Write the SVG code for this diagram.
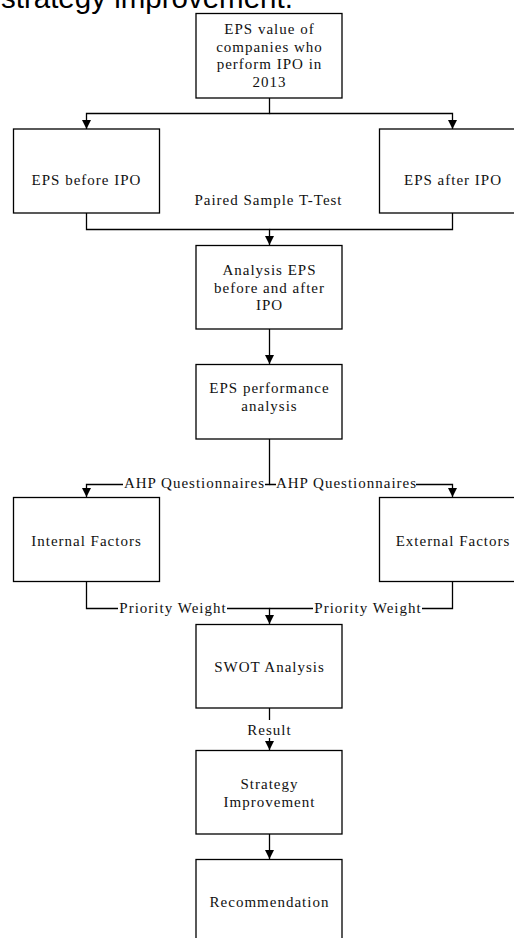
<svg xmlns="http://www.w3.org/2000/svg" width="514" height="938" viewBox="0 0 514 938">
<style>
.box{fill:#fff;stroke:#000;stroke-width:1.3}
.t{font-family:"Liberation Serif","Times New Roman",serif;font-size:15px;letter-spacing:1px;fill:#111;text-anchor:middle}
.ln{fill:none;stroke:#000;stroke-width:1.3}
.bg{fill:#fff}
.title{font-family:"Liberation Sans",Arial,sans-serif;font-size:29.5px;fill:#000}
</style>
<defs>
<marker id="ah" markerUnits="userSpaceOnUse" markerWidth="9" markerHeight="9" refX="9" refY="4.5" orient="auto">
<path d="M0,0 L9,4.5 L0,9 z" fill="#000"/>
</marker>
</defs>
<rect width="514" height="938" fill="#fff"/>
<text class="title" x="1" y="8">strategy improvement.</text>

<g id="connectors">
<path class="ln" d="M269.5,98 V113.5 H86.5 V129" marker-end="url(#ah)"/>
<path class="ln" d="M269.5,113.5 H452.5 V129" marker-end="url(#ah)"/>
<path class="ln" d="M86.5,213 V229.5 H269.5 V245" marker-end="url(#ah)"/>
<path class="ln" d="M452.5,213 V229.5 H269.5"/>
<path class="ln" d="M269.5,329 V364" marker-end="url(#ah)"/>
<path class="ln" d="M269.5,439 V484.5 H86.5 V497" marker-end="url(#ah)"/>
<path class="ln" d="M269.5,484.5 H452.5 V497" marker-end="url(#ah)"/>
<path class="ln" d="M86.5,582 V608.5 H269.5 V624" marker-end="url(#ah)"/>
<path class="ln" d="M452.5,582 V608.5 H269.5"/>
<path class="ln" d="M269.5,708 V750" marker-end="url(#ah)"/>
<path class="ln" d="M269.5,834 V859" marker-end="url(#ah)"/>
<rect class="bg" x="123" y="476" width="142" height="13"/>
<text class="t" x="194.5" y="488">AHP Questionnaires</text>
<rect class="bg" x="276" y="476" width="140" height="13"/>
<text class="t" x="346.5" y="488">AHP Questionnaires</text>
<rect class="bg" x="118" y="601" width="109" height="14"/>
<text class="t" x="173" y="612.5">Priority Weight</text>
<rect class="bg" x="313" y="601" width="109" height="14"/>
<text class="t" x="368" y="612.5">Priority Weight</text>
<rect class="bg" x="247" y="720" width="45" height="18"/>
<text class="t" x="269.5" y="735">Result</text>
<text class="t" x="268.5" y="205">Paired Sample T-Test</text>
</g>

<g id="n-eps-value">
<rect class="box" x="196" y="13.5" width="146" height="84.5"/>
<text class="t" x="269.5" y="34">EPS value of</text>
<text class="t" x="269.5" y="51.5">companies who</text>
<text class="t" x="269.5" y="69">perform IPO in</text>
<text class="t" x="269.5" y="86.5">2013</text>
</g>
<g id="n-before">
<rect class="box" x="13.5" y="129" width="146" height="84"/>
<text class="t" x="86.5" y="185">EPS before IPO</text>
</g>
<g id="n-after">
<rect class="box" x="379.5" y="129" width="146" height="84"/>
<text class="t" x="453" y="185">EPS after IPO</text>
</g>
<g id="n-analysis">
<rect class="box" x="196" y="245.5" width="146" height="83.5"/>
<text class="t" x="269.5" y="275">Analysis EPS</text>
<text class="t" x="269.5" y="292.5">before and after</text>
<text class="t" x="269.5" y="310">IPO</text>
</g>
<g id="n-performance">
<rect class="box" x="196" y="364.5" width="146" height="74.5"/>
<text class="t" x="269.5" y="393">EPS performance</text>
<text class="t" x="269.5" y="410.5">analysis</text>
</g>
<g id="n-internal">
<rect class="box" x="13.5" y="497.5" width="146" height="84"/>
<text class="t" x="86.5" y="545.5">Internal Factors</text>
</g>
<g id="n-external">
<rect class="box" x="379.5" y="497.5" width="146" height="84"/>
<text class="t" x="453" y="545.5">External Factors</text>
</g>
<g id="n-swot">
<rect class="box" x="196" y="624.5" width="146" height="83.5"/>
<text class="t" x="269.5" y="672">SWOT Analysis</text>
</g>
<g id="n-strategy">
<rect class="box" x="196" y="750.5" width="146" height="83.5"/>
<text class="t" x="269.5" y="789">Strategy</text>
<text class="t" x="269.5" y="807">Improvement</text>
</g>
<g id="n-recommendation">
<rect class="box" x="196" y="859.5" width="146" height="84"/>
<text class="t" x="269.5" y="906.5">Recommendation</text>
</g>
</svg>
